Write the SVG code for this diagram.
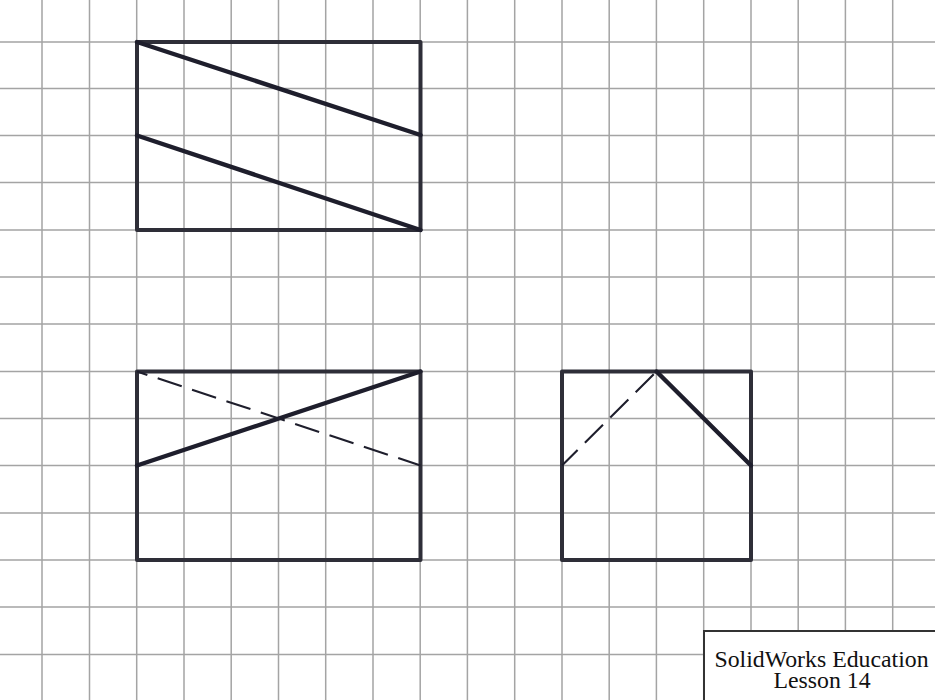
<svg xmlns="http://www.w3.org/2000/svg" width="935" height="700" viewBox="0 0 935 700">
<style>
.g{stroke:#a4a4a4;stroke-width:1.5;fill:none}
.o{stroke:#2e2e38;stroke-width:4;fill:none;stroke-linejoin:round}
.h{stroke:#1e1e2c;stroke-width:4.4;fill:none;stroke-linecap:round}
.d{stroke:#1e1e2c;stroke-width:2.1;fill:none}
.t{font-family:"Liberation Serif","Times New Roman",serif;font-size:23.8px;fill:#111;text-anchor:middle}
</style>
<rect width="935" height="700" fill="#fff"/>
<g id="grid">
<path class="g" d="M42 0V700M89.500 0V700M136.700 0V700M184 0V700M231.200 0V700M278.500 0V700M325.700 0V700M373 0V700M420.200 0V700M467.400 0V700M514.700 0V700M562 0V700M609.200 0V700M656.400 0V700M703.700 0V700M751 0V700M798.200 0V700M845.400 0V700M892.700 0V700"/>
<path class="g" d="M0 42H935M0 88.500H935M0 135.500H935M0 182.500H935M0 230H935M0 277H935M0 324H935M0 371.500H935M0 418.500H935M0 465.500H935M0 513H935M0 560H935M0 607H935M0 654.500H935"/>
</g>
<g id="view-top">
<rect class="o" x="137" y="42" width="283.500" height="188"/>
<path class="h" d="M137 42L420.500 135M137 135.500L420.500 230"/>
</g>
<g id="view-front">
<rect class="o" x="137" y="371.500" width="283.500" height="188.500"/>
<path class="h" d="M137 465.500L420.500 371.500"/>
<path class="d" stroke-dasharray="25.300 10.900" stroke-dashoffset="14.400" d="M137 371.500L420.500 465.500"/>
</g>
<g id="view-side">
<rect class="o" x="562" y="371.500" width="189" height="188.500"/>
<path class="h" d="M656.500 371.500L751 465.500"/>
<path class="d" stroke-dasharray="25.500 10.300" stroke-dashoffset="3.500" d="M562 465.500L656.500 371.500"/>
</g>
<g id="title-block">
<rect x="704" y="631" width="240" height="80" fill="#fff" stroke="#333" stroke-width="2"/>
<text class="t" x="821.500" y="666.500">SolidWorks Education</text>
<text class="t" x="822" y="688">Lesson 14</text>
</g>
</svg>
